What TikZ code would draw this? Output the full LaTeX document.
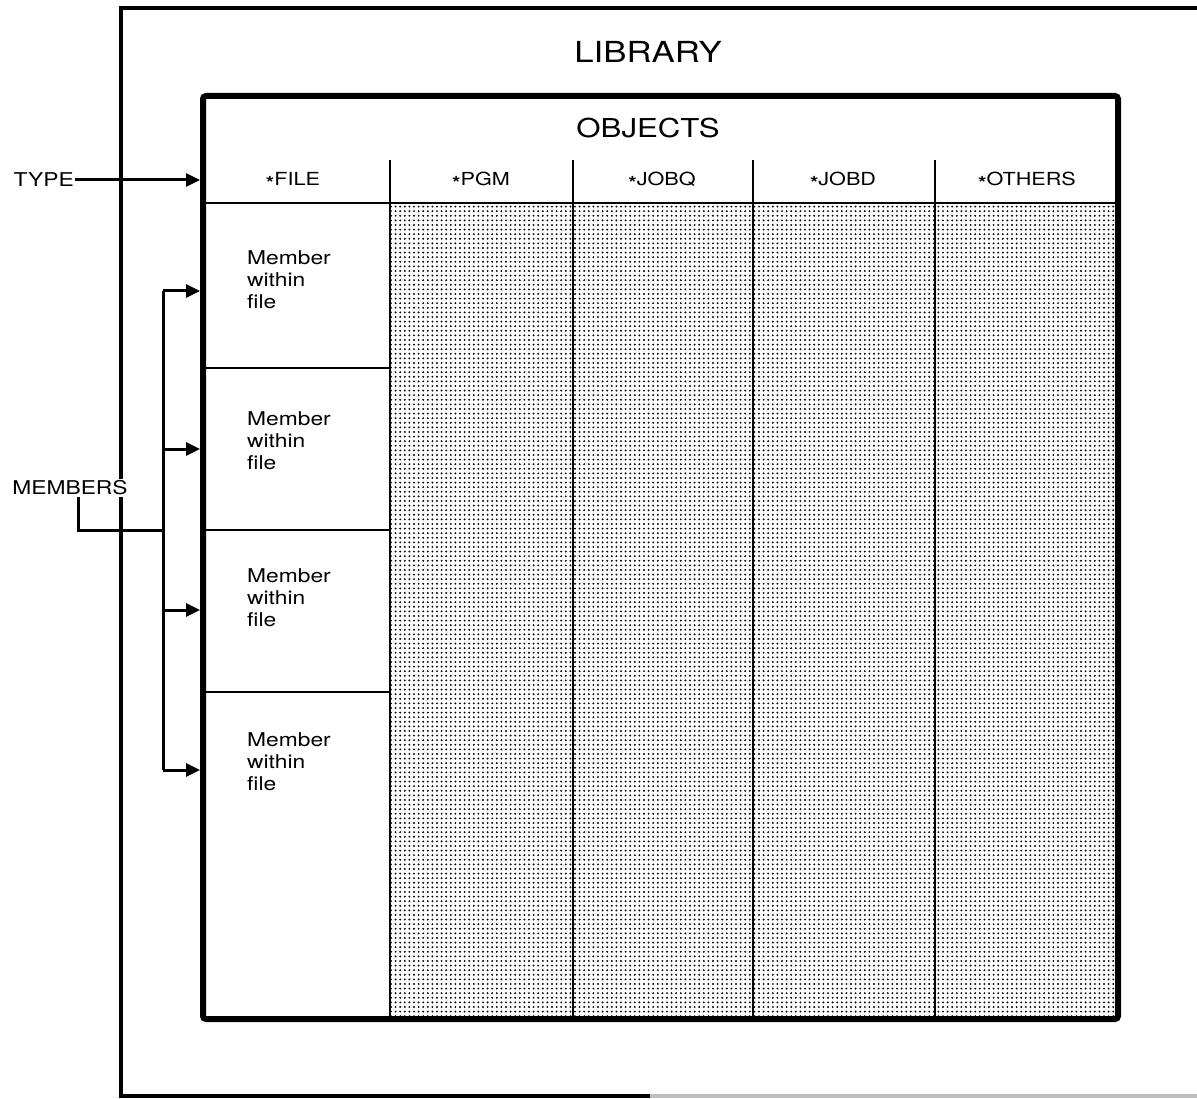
\documentclass[tikz,border=0pt]{standalone}
\usepackage{fontspec}
\setmainfont{TeX Gyre Heros}[FakeStretch=1.2]
\usetikzlibrary{arrows.meta,patterns.meta}
\newcommand{\lowstar}{\raisebox{-0.2em}{\bfseries *}}
\begin{document}
\begin{tikzpicture}[x=1pt,y=-1pt,
  title/.style={inner sep=0pt,font=\fontsize{29}{34}\selectfont},
  subtitle/.style={inner sep=0pt,font=\fontsize{26}{30}\selectfont},
  colhead/.style={inner sep=0pt,anchor=base,font=\fontsize{18}{22}\selectfont},
  member/.style={inner sep=0pt,anchor=west,align=left,font=\fontsize{19}{22}\selectfont},
  sidelbl/.style={inner sep=1.5pt,fill=white,font=\fontsize{19}{22}\selectfont},
  outerline/.style={line width=3.4pt},
  innerbox/.style={draw,line width=6pt,rounded corners=3pt,minimum width=915pt,minimum height=923pt,inner sep=0pt},
  thin/.style={line width=1.5pt},
  conn/.style={line width=3pt},
  arr/.style={conn,-{Triangle[length=14pt,width=13pt]}},
  stipple/.style={pattern={Dots[distance=4.6pt,radius=1.05pt]},pattern color=black}
]
\useasboundingbox (0,0) rectangle (1197,1099);
% outer LIBRARY frame (cut off at right)
\draw[outerline] (1197,8) -- (121,8) -- (121,1096) -- (650,1096);
\draw[outerline,black!25] (650,1096) -- (1197,1096);
\node[title] (library) at (648,52) {LIBRARY};
% stippled region
\fill[white] (203,96) rectangle (1118,1019);
\fill[stipple] (390,203) rectangle (1118,1019);
% grid lines
\draw[thin] (203,203) -- (1118,203);
\foreach \x in {390,573,753,935} \draw[thin] (\x,160) -- (\x,1019);
\foreach \y in {368,530,692} \draw[thin] (203,\y) -- (390,\y);
% OBJECTS box
\node[innerbox] (objects) at (660.5,557.5) {};
\node[subtitle] (objtitle) at (648,128) {OBJECTS};
% column heads
\node[colhead] (h1) at (293,186) {\lowstar FILE};
\node[colhead] (h2) at (481,186) {\lowstar PGM};
\node[colhead] (h3) at (662,186) {\lowstar JOBQ};
\node[colhead] (h4) at (843,186) {\lowstar JOBD};
\node[colhead] (h5) at (1027,186) {\lowstar OTHERS};
% members
\node[member] (mem1) at (247,280) {Member\\within\\file};
\node[member] (mem2) at (247,441) {Member\\within\\file};
\node[member] (mem3) at (247,598) {Member\\within\\file};
\node[member] (mem4) at (247,762) {Member\\within\\file};
% side labels
\node[sidelbl,anchor=west] (type) at (12,180) {TYPE};
\draw[arr] (type.east) -- (type.east -| objects.west);
\node[sidelbl] (members) at (70,488) {MEMBERS};
\coordinate (bus) at (163,530);
\coordinate (m1) at (163,291);
\coordinate (m2) at (163,449);
\coordinate (m3) at (163,610);
\coordinate (m4) at (163,770);
\draw[conn] ([xshift=8pt]members.south) |- (bus);
\draw[conn] (m1) -- (m4);
\foreach \m in {m1,m2,m3,m4} \draw[arr] (\m) -- (\m -| objects.west);
\end{tikzpicture}
\end{document}
